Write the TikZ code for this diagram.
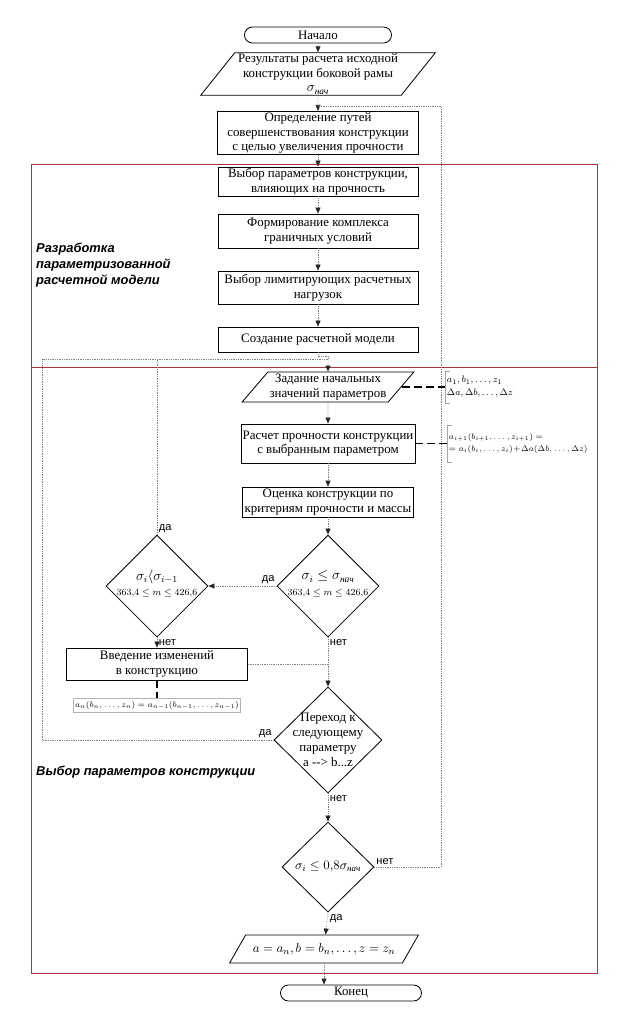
\documentclass[tikz,border=0pt]{standalone}
\usepackage{fontspec}
\usepackage{amsmath}
\setmainfont{Liberation Serif}
\setsansfont{Liberation Sans}
\usetikzlibrary{shapes.geometric,arrows.meta}
\definecolor{framered}{RGB}{170,50,62}
\newcommand{\nach}{\text{\itshape нач}}

\begin{document}
\begin{tikzpicture}[x=0.3mm,y=-0.3mm,
  block/.style={draw, line width=0.7pt, align=center, inner sep=1pt, font=\fontsize{11}{12.5}\selectfont},
  wide/.style={block, minimum width=60mm},
  term/.style={block, rounded corners=2.4mm, minimum height=4.8mm},
  io/.style={block, trapezium, trapezium stretches=true},
  dec/.style={draw, diamond, line width=0.7pt, inner sep=0pt},
  dtxt/.style={align=center, inner sep=0pt, font=\fontsize{11}{13}\selectfont},
  note/.style={align=left, inner sep=1.5pt, anchor=west, font=\fontsize{7}{10}\selectfont},
  brk/.style={draw=black!35, line width=0.4pt},
  link/.style={draw, line width=1.3pt, dash pattern=on 2.4mm off 1.2mm},
  conn/.style={draw=black!50, densely dotted, line width=0.5pt},
  arr/.style={conn, -{Triangle[length=1.8mm,width=1.5mm,color=black!85]}},
  lbl/.style={font=\sffamily\fontsize{9.5}{11}\selectfont, inner sep=1.5pt},
  sect/.style={font=\sffamily\bfseries\itshape\fontsize{11}{13.5}\selectfont, align=left, anchor=north west, inner sep=0pt},
  frame/.style={draw=framered, line width=0.8pt}]
\useasboundingbox (0,0) rectangle (637,1024);
\draw[frame] (31,164) rectangle (597,973);
\draw[frame] (31,367) -- (597,367);

\node[term, minimum width=44.1mm] (start) at (318,35) {Начало};
\node[io, trapezium left angle=52, trapezium right angle=128, minimum width=70.5mm, minimum height=12.6mm] (source) at (318,74) {Результаты расчета исходной\\конструкции боковой рамы\\[0pt]{\large$\sigma_{\nach}$}};
\node[block, minimum width=60.3mm, minimum height=12.3mm] (ways) at (318,133) {Определение путей\\совершенствования конструкции\\с целью увеличения прочности};
\node[wide, minimum height=8.7mm] (params) at (318,181.5) {Выбор параметров конструкции,\\влияющих на прочность};
\node[wide, minimum height=10.2mm] (bounds) at (318,231) {Формирование комплекса\\граничных условий};
\node[wide, minimum height=9.9mm] (loads) at (318,287.5) {Выбор лимитирующих расчетных\\нагрузок};
\node[wide, minimum height=7.5mm] (model) at (318,339.5) {Создание расчетной модели};

\coordinate (join) at (328,359);
\coordinate (loopL) at (42,359);
\coordinate (loopR) at (441,106);

\node[io, trapezium left angle=48, trapezium right angle=132, minimum width=51.6mm, minimum height=9mm] (init) at (328,387) {Задание начальных\\значений параметров};
\node[block, minimum width=52.2mm, minimum height=11.7mm] (calc) at (328,443.5) {Расчет прочности конструкции\\с выбранным параметром};
\node[block, minimum width=51.3mm, minimum height=9mm] (rate) at (328,502) {Оценка конструкции по\\критериям прочности и массы};
\node[dec, minimum width=30.6mm, minimum height=30.6mm] (chk) at (328,586) {};
\node[dtxt] (chkt) at (328,584) {{\fontsize{12}{13}\selectfont$\sigma_i\le\sigma_{\nach}$}\\{\fontsize{8.5}{10}\selectfont$363{,}4\le m\le 426{,}6$}};
\node[dec, minimum width=30.6mm, minimum height=30.6mm] (prev) at (157,586) {};
\node[dtxt] (prevt) at (157,584) {{\fontsize{12}{13}\selectfont$\sigma_i\langle\sigma_{i-1}$}\\{\fontsize{8.5}{10}\selectfont$363{,}4\le m\le 426{,}6$}};
\node[block, minimum width=54.3mm, minimum height=9.6mm] (change) at (157,664) {Введение изменений\\в конструкцию};
\node[draw=black!30, line width=0.4pt, inner sep=1.5pt, font=\fontsize{7}{9}\selectfont, minimum width=45mm, minimum height=4.2mm] (noteC) at (157,705) {$a_n(b_n,\ldots,z_n)=a_{n-1}(b_{n-1},\ldots,z_{n-1})$};
\node[dec, minimum width=32.4mm, minimum height=31.8mm] (next) at (328,740) {};
\node[dtxt] (nextt) at (328,740) {Переход к\\следующему\\параметру\\a -{}-> b...z};
\node[dec, minimum width=27.6mm, minimum height=27mm] (fin) at (328,867) {};
\node[dtxt] (fint) at (328,867) {$\sigma_i\le 0{,}8\sigma_{\nach}$};
\node[io, trapezium left angle=43, trapezium right angle=137, minimum width=56.7mm, minimum height=8.4mm] (out) at (324,949) {$a=a_n, b=b_n,\dots, z=z_n$};
\node[term, minimum width=42.3mm] (stop) at (351,993) {Конец};

\node[note, font=\fontsize{8.5}{11}\selectfont, minimum height=9.3mm] (noteA) at (445,387) {$a_1, b_1,\ldots,z_1$\\$\Delta a,\Delta b,\ldots,\Delta z$};
\node[note, minimum height=10.8mm] (noteB) at (447,443.5) {$a_{i+1}(b_{i+1},\ldots,z_{i+1})=$\\$=a_i(b_i,\ldots,z_i)\!+\!\Delta a(\Delta b,\ldots,\Delta z)$};
\draw[brk] ([xshift=4]noteA.north west) -- (noteA.north west) -- (noteA.south west) -- ([xshift=4]noteA.south west);
\draw[brk] ([xshift=4]noteB.north west) -- (noteB.north west) -- (noteB.south west) -- ([xshift=4]noteB.south west);

\draw[arr] (start) -- (source);
\draw[arr] (source) -- (ways);
\draw[arr] (ways) -- (params);
\draw[arr] (params) -- (bounds);
\draw[arr] (bounds) -- (loads);
\draw[arr] (loads) -- (model);
\draw[conn] (model.south) -- ++(0,4) -| (join);
\draw[arr] (join) -- (init.north);
\draw[arr] (init) -- (calc);
\draw[arr] (calc) -- (rate);
\draw[arr] (rate) -- (chk);
\draw[arr] (chk.west) -- (prev.east);
\draw[arr] (prev.south) -- (change);
\draw[arr] (chk.south) -- (next.north);
\draw[conn] (change.east) -- (change.east -| chk.south);
\draw[arr] (next.south) -- (fin.north);
\draw[arr] (fin.south) -- (out);
\draw[arr] (out.south) -- (out.south |- stop.north);
\draw[conn] (prev.north) -- (prev.north |- join);
\draw[conn] (next.west) -| (loopL) -- (join);
\draw[conn] (fin.east) -| (loopR) -- (loopR -| ways.north);

\draw[link] (init.east) -- (init.east -| noteA.west);
\draw[link] (calc.east) -- (calc.east -| noteB.west);
\draw[link] (change.south) -- (noteC.north);

\node[lbl, above left] (yesA) at (chk.west) {да};
\node[lbl, above right] (yesB) at (prev.north) {да};
\node[lbl, below right] (noA) at (prev.south) {нет};
\node[lbl, below right] (noB) at (chk.south) {нет};
\node[lbl, above left] (yesC) at (next.west) {да};
\node[lbl, below right] (noC) at (next.south) {нет};
\node[lbl, above right] (noD) at (fin.east) {нет};
\node[lbl, below right] (yesD) at (fin.south) {да};

\node[sect] (partA) at (36,243) {Разработка\\параметризованной\\расчетной модели};
\node[sect] (partB) at (36,766) {Выбор параметров конструкции};
\end{tikzpicture}
\end{document}
